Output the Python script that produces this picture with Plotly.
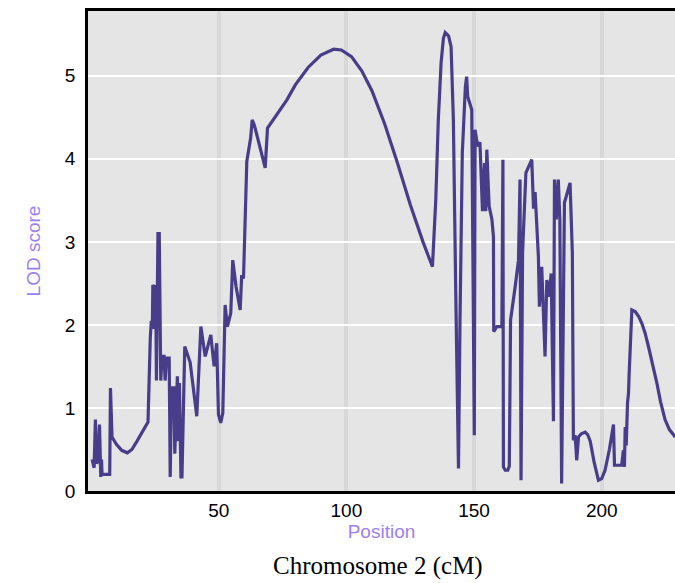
import plotly.graph_objects as go

pos = [0.4, 1.2, 1.7, 2.2, 2.8, 3.3, 3.8, 4.1, 4.3, 7.3, 7.6, 8.2,
       10, 12, 14.2, 16, 18, 20, 22.3,
       23.2, 23.6, 24.0, 24.2, 24.8, 25.1, 25.3, 25.6, 26.2, 26.7, 27.3,
       27.8, 28.6, 29.0, 29.6, 30.6, 31.0, 31.5, 32.0, 32.4, 32.8, 33.3,
       33.8, 34.2, 34.6, 35.2, 35.6, 36.7, 38.8, 41.4,
       43.0, 44.7, 46.9, 47.5, 48.2, 49.2, 49.9, 50.8, 51.6, 52.5, 53.4,
       54.7, 55.5, 56.8, 58.4, 59.0, 59.7, 61.0, 62.0, 62.5, 63.1, 64.0,
       68.2, 69.1, 76.7, 80, 85, 90, 95, 98, 102, 106, 110, 115, 120, 125,
       130, 133.7, 135, 136, 137.1, 138, 138.7, 140, 141, 141.9, 142.8,
       143.9, 144.5, 145.4, 146.6, 147.1, 147.5, 149.1, 150.1, 150.4,
       151.4, 152.3, 153.3, 154.1, 154.6, 155.0, 155.9, 157.0, 157.6,
       157.7, 158.9, 160.9, 161.3, 161.5, 162.2, 163.2, 163.8, 164.3,
       166.1, 167.4, 168.0, 168.4, 169.0, 170.3, 172.6, 173.3, 173.6,
       173.9, 175.2, 175.6, 176.5, 177.8, 178.5, 179.4, 180.2, 181.1,
       181.5, 182.2, 183.0, 183.6, 184.3, 185.4, 187.6, 188.5, 188.9,
       189.6, 190.2, 190.9, 192.0, 193.5, 194.5, 195.5, 197.0, 198.7,
       200.0, 201.3, 203.0, 204.6, 205.0, 207.8, 208.5, 208.9, 209.2,
       209.6, 210.1, 210.5, 210.7, 211.8, 213.1, 214.5, 215.7, 217.0,
       218.3, 220.0, 221.6, 223.0, 224.8, 226.5, 228.8]

lod = [0.38, 0.28, 0.86, 0.33, 0.38, 0.80, 0.17, 0.38, 0.20, 0.20, 1.24, 0.65,
       0.56, 0.49, 0.46, 0.50, 0.60, 0.71, 0.83,
       1.85, 2.05, 1.95, 2.48, 2.45, 1.95, 2.48, 1.33, 3.10, 3.10, 1.33,
       1.62, 1.62, 1.33, 1.60, 1.60, 0.17, 1.26, 0.90, 1.26, 0.45, 1.10,
       1.38, 0.60, 1.30, 0.17, 0.17, 1.74, 1.55, 0.90,
       1.98, 1.62, 1.88, 1.70, 1.50, 1.78, 0.92, 0.82, 0.94, 2.24, 1.98,
       2.14, 2.78, 2.46, 2.18, 2.60, 2.56, 3.97, 4.15, 4.25, 4.47, 4.40,
       3.89, 4.37, 4.71, 4.89, 5.10, 5.25, 5.32, 5.31, 5.23, 5.06, 4.82,
       4.42, 3.95, 3.45, 3.00, 2.70, 3.50, 4.47, 5.16, 5.45, 5.52, 5.48,
       5.35, 4.47, 2.46, 0.27, 2.06, 4.07, 4.87, 4.99, 4.75, 4.59, 0.67,
       4.35, 4.15, 4.20, 3.37, 3.95, 3.37, 4.11, 3.43, 3.27, 3.06,
       1.92, 1.98, 1.98, 3.99, 0.29, 0.25, 0.25, 0.30, 2.06,
       2.46, 2.78, 3.75, 0.13, 2.87, 3.83, 3.99, 3.40, 3.55,
       3.60, 2.82, 2.22, 2.70, 1.62, 2.54, 2.34, 2.62, 0.84,
       3.75, 3.27, 3.75, 3.27, 0.09, 3.47, 3.71, 2.86, 0.61,
       0.67, 0.37, 0.65, 0.69, 0.71, 0.68, 0.60, 0.35, 0.13,
       0.15, 0.25, 0.50, 0.80, 0.31, 0.31, 0.49, 0.29, 0.77,
       0.55, 1.06, 1.18, 1.38, 2.18, 2.16, 2.10, 2.02, 1.90,
       1.74, 1.52, 1.30, 1.08, 0.86, 0.74, 0.65]

x_ticks = [50, 100, 150, 200]
y_ticks = [0, 1, 2, 3, 4, 5]

fig = go.Figure()
fig.add_trace(go.Scatter(x=pos, y=lod, mode="lines",
                         line=dict(color="#483D8B", width=3.2),
                         hoverinfo="skip", showlegend=False))

fig.update_layout(
    width=675, height=583,
    margin=dict(l=88, r=0, t=11, b=92, autoexpand=False),
    plot_bgcolor="#e5e5e5", paper_bgcolor="white",
    font=dict(family="Liberation Sans, Arial", size=18, color="black"),
    xaxis=dict(range=[-1.2, 228.7], tickvals=x_ticks, showgrid=True,
               gridcolor="#d8d8d8", gridwidth=4, zeroline=False,
               showline=True, linecolor="black", linewidth=2.5, mirror=True,
               ticks="", tickfont=dict(size=19, color="black"),
               automargin=False,
               title=dict(text="Position", standoff=4,
                          font=dict(size=19, color="#9b7ff0"))),
    yaxis=dict(range=[0, 5.78], tickvals=y_ticks, showgrid=True,
               gridcolor="white", gridwidth=2, zeroline=False,
               showline=True, linecolor="black", linewidth=2.5,
               ticks="outside", ticklen=6, tickcolor="rgba(0,0,0,0)",
               tickfont=dict(size=19, color="black"),
               automargin=False,
               title=dict(text="LOD score", standoff=20,
                          font=dict(size=19, color="#9b7ff0"))),
)

fig.add_annotation(text="Chromosome 2 (cM)", xref="paper", yref="paper",
                   x=(378 - 88) / 587, y=-(566 - 491) / 480,
                   xanchor="center", yanchor="middle", showarrow=False,
                   font=dict(family="Liberation Serif, Times New Roman", size=25, color="black"))

fig.write_html("out.html", config={"displayModeBar": False},
               post_script="document.body.style.margin='0';document.body.style.overflow='hidden';")
